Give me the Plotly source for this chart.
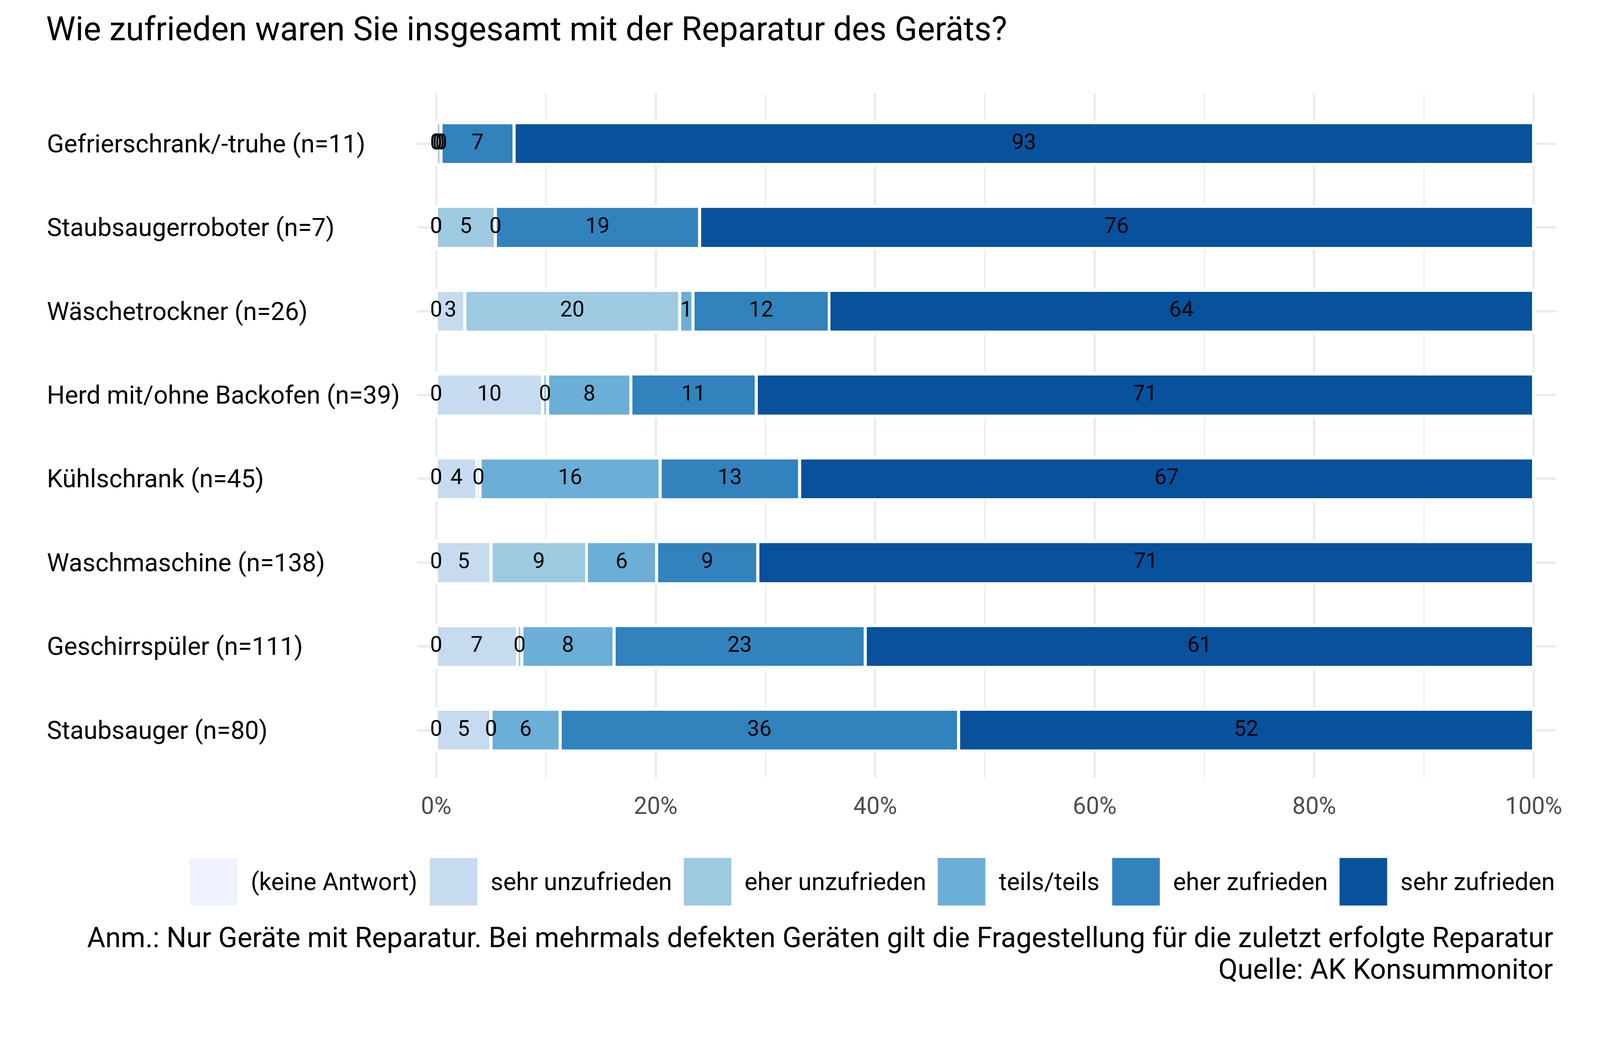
import plotly.graph_objects as go

# data: share in % per answer category, rows top to bottom
geraete = [
    "Gefrierschrank/-truhe (n=11)",
    "Staubsaugerroboter (n=7)",
    "Wäschetrockner (n=26)",
    "Herd mit/ohne Backofen (n=39)",
    "Kühlschrank (n=45)",
    "Waschmaschine (n=138)",
    "Geschirrspüler (n=111)",
    "Staubsauger (n=80)",
]
antworten = ["(keine Antwort)", "sehr unzufrieden", "eher unzufrieden",
             "teils/teils", "eher zufrieden", "sehr zufrieden"]

keine_antwort    = [0, 0, 0, 0, 0, 0, 0, 0]
sehr_unzufrieden = [0, 0, 2.6, 9.7, 3.7, 5.0, 7.4, 5.0]
eher_unzufrieden = [0.45, 5.4, 19.6, 0.45, 0.3, 8.7, 0.4, 0]
teils_teils      = [0, 0, 1.2, 7.6, 16.4, 6.4, 8.4, 6.3]
eher_zufrieden   = [6.65, 18.6, 12.4, 11.4, 12.7, 9.2, 22.9, 36.3]
sehr_zufrieden   = [92.9, 76.0, 64.2, 70.85, 66.9, 70.7, 60.9, 52.4]

werte = [keine_antwort, sehr_unzufrieden, eher_unzufrieden,
         teils_teils, eher_zufrieden, sehr_zufrieden]

farben = ["#EFF3FF", "#C6DBEF", "#9ECAE1", "#6BAED6", "#3182BD", "#08519C"]

titel = "Wie zufrieden waren Sie insgesamt mit der Reparatur des Geräts?"
anm = ("Anm.: Nur Geräte mit Reparatur. Bei mehrmals defekten Geräten gilt "
       "die Fragestellung für die zuletzt erfolgte Reparatur")
quelle = "Quelle: AK Konsummonitor"

# layout, measured in reference pixels and scaled to the browser viewport
S = 0.975
W, H = 4200, 2700
L, R, T, B = 1095, 115, 245, 657
FONT = "Roboto"


def s(v):
    return v * S


def px_x(p):
    return (p - L) / (W - L - R)


def px_y(p):
    return (H - B - p) / (H - T - B)


fig = go.Figure()

# stacked bars
for name, vals, col in zip(antworten, werte, farben):
    fig.add_trace(go.Bar(
        y=geraete, x=vals, name=name, orientation="h", width=0.5,
        marker=dict(color=col, line=dict(color="white", width=s(8))),
        showlegend=False, hoverinfo="x+y+name",
    ))

# labels in the middle of each segment (also for zeros)
start = [0] * len(geraete)
for vals in werte:
    mitte = [a + v / 2 for a, v in zip(start, vals)]
    fig.add_trace(go.Scatter(
        y=geraete, x=mitte, mode="text",
        text=[f"{v:.0f}" for v in vals],
        textfont=dict(family=FONT, size=s(57), color="black"),
        showlegend=False, hoverinfo="skip",
    ))
    start = [a + v for a, v in zip(start, vals)]

# category labels, left aligned
for g in geraete:
    fig.add_annotation(
        x=0, xref="paper", y=g, yref="y", xshift=-s(L - 121),
        text=g, showarrow=False, xanchor="left", yanchor="middle",
        font=dict(family=FONT, size=s(66), color="black"),
    )

# legend with big swatches
legend_left = [498, 1128, 1795, 2462, 2920, 3517]
for name, col, x0 in zip(antworten, farben, legend_left):
    fig.add_shape(
        type="rect", xref="paper", yref="paper",
        x0=px_x(x0), x1=px_x(x0 + 125), y0=px_y(2378), y1=px_y(2253),
        fillcolor=col, line=dict(width=0),
    )
    fig.add_annotation(
        x=px_x(x0 + 158), y=px_y(2315), xref="paper", yref="paper",
        text=name, showarrow=False, xanchor="left", yanchor="middle",
        font=dict(family=FONT, size=s(64), color="black"),
    )

# caption
for txt, ypos in [(anm, 2462), (quelle, 2545)]:
    fig.add_annotation(
        x=px_x(4080), y=px_y(ypos), xref="paper", yref="paper",
        text=txt, showarrow=False, xanchor="right", yanchor="middle",
        font=dict(family=FONT, size=s(73.5), color="black"),
    )

fig.update_layout(
    width=round(s(W)), height=round(s(H)),
    margin=dict(l=s(L), r=s(R), t=s(T), b=s(B)),
    barmode="stack",
    plot_bgcolor="white", paper_bgcolor="white",
    font=dict(family=FONT, color="black"),
    title=dict(
        text=titel, x=121 / W, xanchor="left", xref="container",
        y=1 - 75 / H, yanchor="middle", yref="container",
        font=dict(family=FONT, size=s(87), color="black"),
    ),
    xaxis=dict(
        range=[-1.73, 102.02], tick0=0, dtick=20, ticksuffix="%",
        showgrid=True, gridcolor="#EBEBEB", gridwidth=s(6.5),
        minor=dict(dtick=10, tick0=0, showgrid=True,
                   gridcolor="#EBEBEB", gridwidth=s(3.5)),
        zeroline=False, showline=False, ticks="",
        ticklabelstandoff=round(s(32)),
        tickfont=dict(family=FONT, size=s(62), color="#4D4D4D"),
        fixedrange=True,
    ),
    yaxis=dict(
        categoryorder="array", categoryarray=geraete,
        range=[7.57, -0.6],
        showgrid=True, gridcolor="#EBEBEB", gridwidth=s(6.5),
        showticklabels=False, zeroline=False, showline=False, ticks="",
        fixedrange=True,
    ),
)

fig.write_html("out.html", config={"displayModeBar": False},
               post_script="document.body.style.margin='0';")
